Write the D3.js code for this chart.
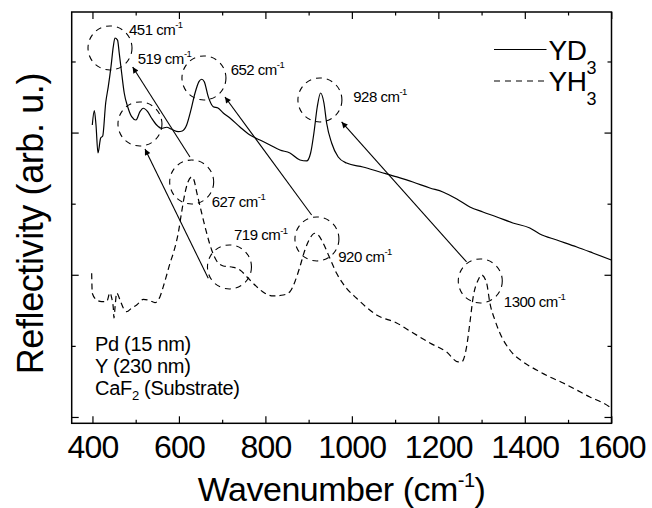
<!DOCTYPE html>
<html>
<head>
<meta charset="utf-8">
<script src="https://cdn.jsdelivr.net/npm/d3@7"></script>
<style>
  body { margin: 0; background: #fff; }
  text { font-family: "Liberation Sans", Arial, sans-serif; fill: #000; }
</style>
</head>
<body>
<div id="chart"></div>
<script>
/* DATA */
// YD3 (solid) : wavenumber (cm-1) and reflectivity (arb. u.)
const wnYD3 = [399.6, 404.3, 408.2, 412.8, 419, 423.7, 430.6, 436.6, 442.9, 448.2, 452, 458, 462, 467.6, 473.6,
  481.5, 490.7, 500.7, 509.9, 517.5, 527.7, 537, 548.5, 560.1, 571.7, 583.2, 598.5, 607.7, 617.9, 627.8, 637.1,
  646.3, 652.6, 658.6, 667.8, 679.4, 690.3, 702.5, 718, 741.1, 764.3, 787.4, 810.5, 833.6, 856.7, 879.9, 895.4,
  904.6, 912.2, 919.9, 927.7, 935.4, 941.6, 953.2, 968.4, 987.8, 1025.5, 1064.8, 1104.1, 1141.1, 1180.4, 1210.5,
  1242.8, 1272.9, 1303, 1335.3, 1372.3, 1411.6, 1434.7, 1474, 1520.3, 1557.3, 1600];
const rYD3 = [4.107, 4.308, 4.107, 3.713, 3.924, 3.952, 4.416, 4.646, 4.927, 5.208, 5.33, 5.30, 5.115, 4.834, 4.553,
  4.364, 4.224, 4.177, 4.294, 4.342, 4.294, 4.201, 4.107, 4.06, 4.075, 4.046, 4.013, 4.023, 4.107, 4.318, 4.553,
  4.716, 4.750, 4.716, 4.505, 4.364, 4.346, 4.276, 4.205, 4.079, 3.966, 3.896, 3.826, 3.755, 3.713, 3.615, 3.601,
  3.713, 3.994, 4.360, 4.557, 4.416, 4.135, 3.854, 3.657, 3.572, 3.516, 3.446, 3.376, 3.305, 3.221, 3.165,
  3.066, 2.954, 2.883, 2.813, 2.729, 2.658, 2.574, 2.489, 2.391, 2.307, 2.208];

// YH3 (dashed)
const wnYH3 = [398.2, 399.6, 409.8, 421.4, 432.9, 440.6, 444.5, 448.2, 449.8, 452.1, 456, 463.7, 471.3, 479.2,
  490.7, 502.3, 517.5, 533, 544.6, 556.2, 563.8, 571.7, 579.3, 586.9, 598.5, 606.3, 614, 620.9, 629.5, 634.8,
  641, 652.6, 664.1, 675.7, 687.3, 702.5, 725.6, 741.1, 760.3, 779.7, 798.9, 818.1, 841.3, 856.7, 868.3, 879.9,
  891.4, 903, 914.5, 922.2, 933.7, 949.2, 964.7, 987.8, 1011, 1057.2, 1103.5, 1141.8, 1180.4, 1219, 1245.9,
  1253.7, 1265.3, 1272.9, 1280.6, 1292.1, 1300, 1311.6, 1319.2, 1330.8, 1342.3, 1365.4, 1396.2, 1427.2, 1458,
  1488.7, 1519.7, 1550.5, 1581.3, 1600];
const rYH3 = [2.021, 1.740, 1.646, 1.622, 1.622, 1.748, 1.674, 1.533, 1.392, 1.533, 1.744, 1.646, 1.533, 1.481,
  1.533, 1.575, 1.655, 1.636, 1.608, 1.692, 1.833, 1.997, 2.162, 2.302, 2.588, 2.883, 3.150, 3.305, 3.376, 3.333,
  3.165, 2.869, 2.588, 2.349, 2.194, 2.124, 2.105, 2.068, 1.951, 1.833, 1.740, 1.702, 1.716, 1.762, 1.903, 2.114,
  2.349, 2.513, 2.584, 2.560, 2.443, 2.232, 2.021, 1.810, 1.669, 1.435, 1.322, 1.181, 1.041, 0.914, 0.774,
  0.774, 0.985, 1.322, 1.688, 1.927, 1.997, 1.885, 1.603, 1.364, 1.181, 0.942, 0.774, 0.661, 0.563,
  0.478, 0.380, 0.281, 0.197, 0.127];

// peak annotations: circle centre (wavenumber, value), label anchor
const peakNames = ["451", "519", "652", "928", "627", "719", "920", "1300"];
const peakWn = [440.6, 509.9, 657.9, 926.1, 629.5, 716.9, 919.2, 1297];
const peakR = [5.19, 4.121, 4.768, 4.459, 3.305, 2.110, 2.504, 1.913];
const labelWn = [484.5, 504.6, 719.6, 1003.1, 675.7, 727.3, 968.4, 1351.5];
const labelR = [5.373, 4.965, 4.810, 4.435, 2.958, 2.489, 2.184, 1.551];

// arrows YH3 peak -> YD3 peak
const arrowFrom = [[625.5, 3.657], [667.8, 1.951], [906.9, 2.841], [1265.3, 2.180]];
const arrowTo = [[493, 4.923], [521.5, 3.769], [706.5, 4.501], [976.3, 4.149]];

const xMajor = [400, 600, 800, 1000, 1200, 1400, 1600];
const xMinor = [500, 700, 900, 1100, 1300, 1500];
const yMajor = [0, 2, 4];
const yMinor = [1, 3, 5];

/* LAYOUT */
const width = 652, height = 508;
const margin = { top: 12, right: 40.5, bottom: 84.7, left: 71.7 };

const svg = d3.select("#chart").append("svg")
  .attr("width", width).attr("height", height);

const x = d3.scaleLinear().domain([352, 1600.5]).range([margin.left, width - margin.right]);
const y = d3.scaleLinear().domain([-0.089, 5.696]).range([height - margin.bottom, margin.top]);

const x0 = margin.left, x1 = width - margin.right, y0 = height - margin.bottom, y1 = margin.top;

// arrow marker
svg.append("defs").append("marker")
  .attr("id", "head")
  .attr("viewBox", "0 0 10 10")
  .attr("refX", 10).attr("refY", 5)
  .attr("markerWidth", 8).attr("markerHeight", 6)
  .attr("markerUnits", "userSpaceOnUse")
  .attr("orient", "auto")
  .append("path").attr("d", "M0,0L10,5L0,10z").attr("fill", "#000");

/* AXES */
function tickAxis(axisFn, scale, vals, size, tr) {
  const g = svg.append("g").attr("transform", tr)
    .call(axisFn(scale).tickValues(vals).tickSize(-size).tickFormat(""));
  g.select(".domain").remove();
  g.selectAll("line").attr("stroke", "#000").attr("stroke-width", 1.2);
  return g;
}
tickAxis(d3.axisBottom, x, xMinor, 3.5, `translate(0,${y0})`);
tickAxis(d3.axisTop, x, xMajor, 7, `translate(0,${y1})`);
tickAxis(d3.axisTop, x, xMinor, 3.5, `translate(0,${y1})`);
tickAxis(d3.axisLeft, y, yMajor, 7, `translate(${x0},0)`);
tickAxis(d3.axisLeft, y, yMinor, 4, `translate(${x0},0)`);
tickAxis(d3.axisRight, y, yMajor, 7, `translate(${x1},0)`);
tickAxis(d3.axisRight, y, yMinor, 4, `translate(${x1},0)`);

const xAxis = svg.append("g").attr("transform", `translate(0,${y0})`)
  .call(d3.axisBottom(x).tickValues(xMajor).tickFormat(d3.format("d")).tickSize(-7).tickPadding(12));
xAxis.select(".domain").remove();
xAxis.selectAll("line").attr("stroke", "#000").attr("stroke-width", 1.2);
xAxis.selectAll("text")
  .attr("font-size", 32).attr("font-family", "'Liberation Sans', Arial, sans-serif")
  .attr("fill", "#000").attr("letter-spacing", -0.8);

svg.append("rect")
  .attr("x", x0).attr("y", y1).attr("width", x1 - x0).attr("height", y0 - y1)
  .attr("fill", "none").attr("stroke", "#000").attr("stroke-width", 1.5);

// axis titles
const xt = svg.append("text").attr("x", (x0 + x1) / 2).attr("y", 501)
  .attr("text-anchor", "middle").attr("font-size", 34).attr("letter-spacing", -0.5);
xt.append("tspan").text("Wavenumber (cm");
xt.append("tspan").attr("font-size", 20).attr("dy", -14).text("-1");
xt.append("tspan").attr("dy", 14).text(")");

svg.append("text")
  .attr("transform", `translate(43,${(y0 + y1) / 2 + 6}) rotate(-90)`)
  .attr("text-anchor", "middle").attr("font-size", 36).attr("letter-spacing", -0.4)
  .text("Reflectivity (arb. u.)");

/* CURVES */
const line = d3.line().x(d => x(d[0])).y(d => y(d[1])).curve(d3.curveMonotoneX);
const ydPts = wnYD3.map((w, i) => [w, rYD3[i]]);
const yhPts = wnYH3.map((w, i) => [w, rYH3[i]]);

svg.append("path").datum(ydPts).attr("d", line)
  .attr("fill", "none").attr("stroke", "#000").attr("stroke-width", 1.2);
svg.append("path").datum(yhPts).attr("d", line)
  .attr("fill", "none").attr("stroke", "#000").attr("stroke-width", 1.2)
  .attr("stroke-dasharray", "6,4");

/* ANNOTATIONS */
svg.selectAll("circle.peak").data(peakNames).join("circle")
  .attr("class", "peak")
  .attr("cx", (d, i) => x(peakWn[i])).attr("cy", (d, i) => y(peakR[i]))
  .attr("r", 22)
  .attr("fill", "none").attr("stroke", "#000").attr("stroke-width", 1.1)
  .attr("stroke-dasharray", "6,5");

svg.selectAll("line.arrow").data(arrowFrom).join("line")
  .attr("class", "arrow")
  .attr("x1", d => x(d[0])).attr("y1", d => y(d[1]))
  .attr("x2", (d, i) => x(arrowTo[i][0])).attr("y2", (d, i) => y(arrowTo[i][1]))
  .attr("stroke", "#000").attr("stroke-width", 1.1)
  .attr("marker-end", "url(#head)");

const labs = svg.selectAll("text.peaklab").data(peakNames).join("text")
  .attr("class", "peaklab")
  .attr("x", (d, i) => x(labelWn[i])).attr("y", (d, i) => y(labelR[i]))
  .attr("font-size", 15).attr("letter-spacing", -0.5);
labs.append("tspan").text(d => d + " cm");
labs.append("tspan").attr("font-size", 9.5).attr("dy", -6.5).text("-1");

/* LEGEND */
const legendNames = ["YD", "YH"];
legendNames.forEach((name, i) => {
  const ly = 49.5 + i * 31.5;
  svg.append("line").attr("x1", 494).attr("x2", 546.5).attr("y1", ly).attr("y2", ly)
    .attr("stroke", "#000").attr("stroke-width", 1.2)
    .attr("stroke-dasharray", i === 1 ? "6,5" : null);
  const t = svg.append("text").attr("x", 548.5).attr("y", ly + 10)
    .attr("font-size", 28).attr("letter-spacing", -0.5);
  t.append("tspan").text(name);
  t.append("tspan").attr("font-size", 18).attr("dy", 14).text("3");
});

/* SAMPLE TEXT */
const sampleLines = ["Pd (15 nm)", "Y (230 nm)"];
sampleLines.forEach((s, i) => {
  svg.append("text").attr("x", 95).attr("y", 351 + i * 22)
    .attr("font-size", 20).attr("letter-spacing", -0.3).text(s);
});
const ca = svg.append("text").attr("x", 95).attr("y", 395)
  .attr("font-size", 20).attr("letter-spacing", -0.3);
ca.append("tspan").text("CaF");
ca.append("tspan").attr("font-size", 13).attr("dy", 5).text("2");
ca.append("tspan").attr("dy", -5).text(" (Substrate)");
</script>
</body>
</html>
